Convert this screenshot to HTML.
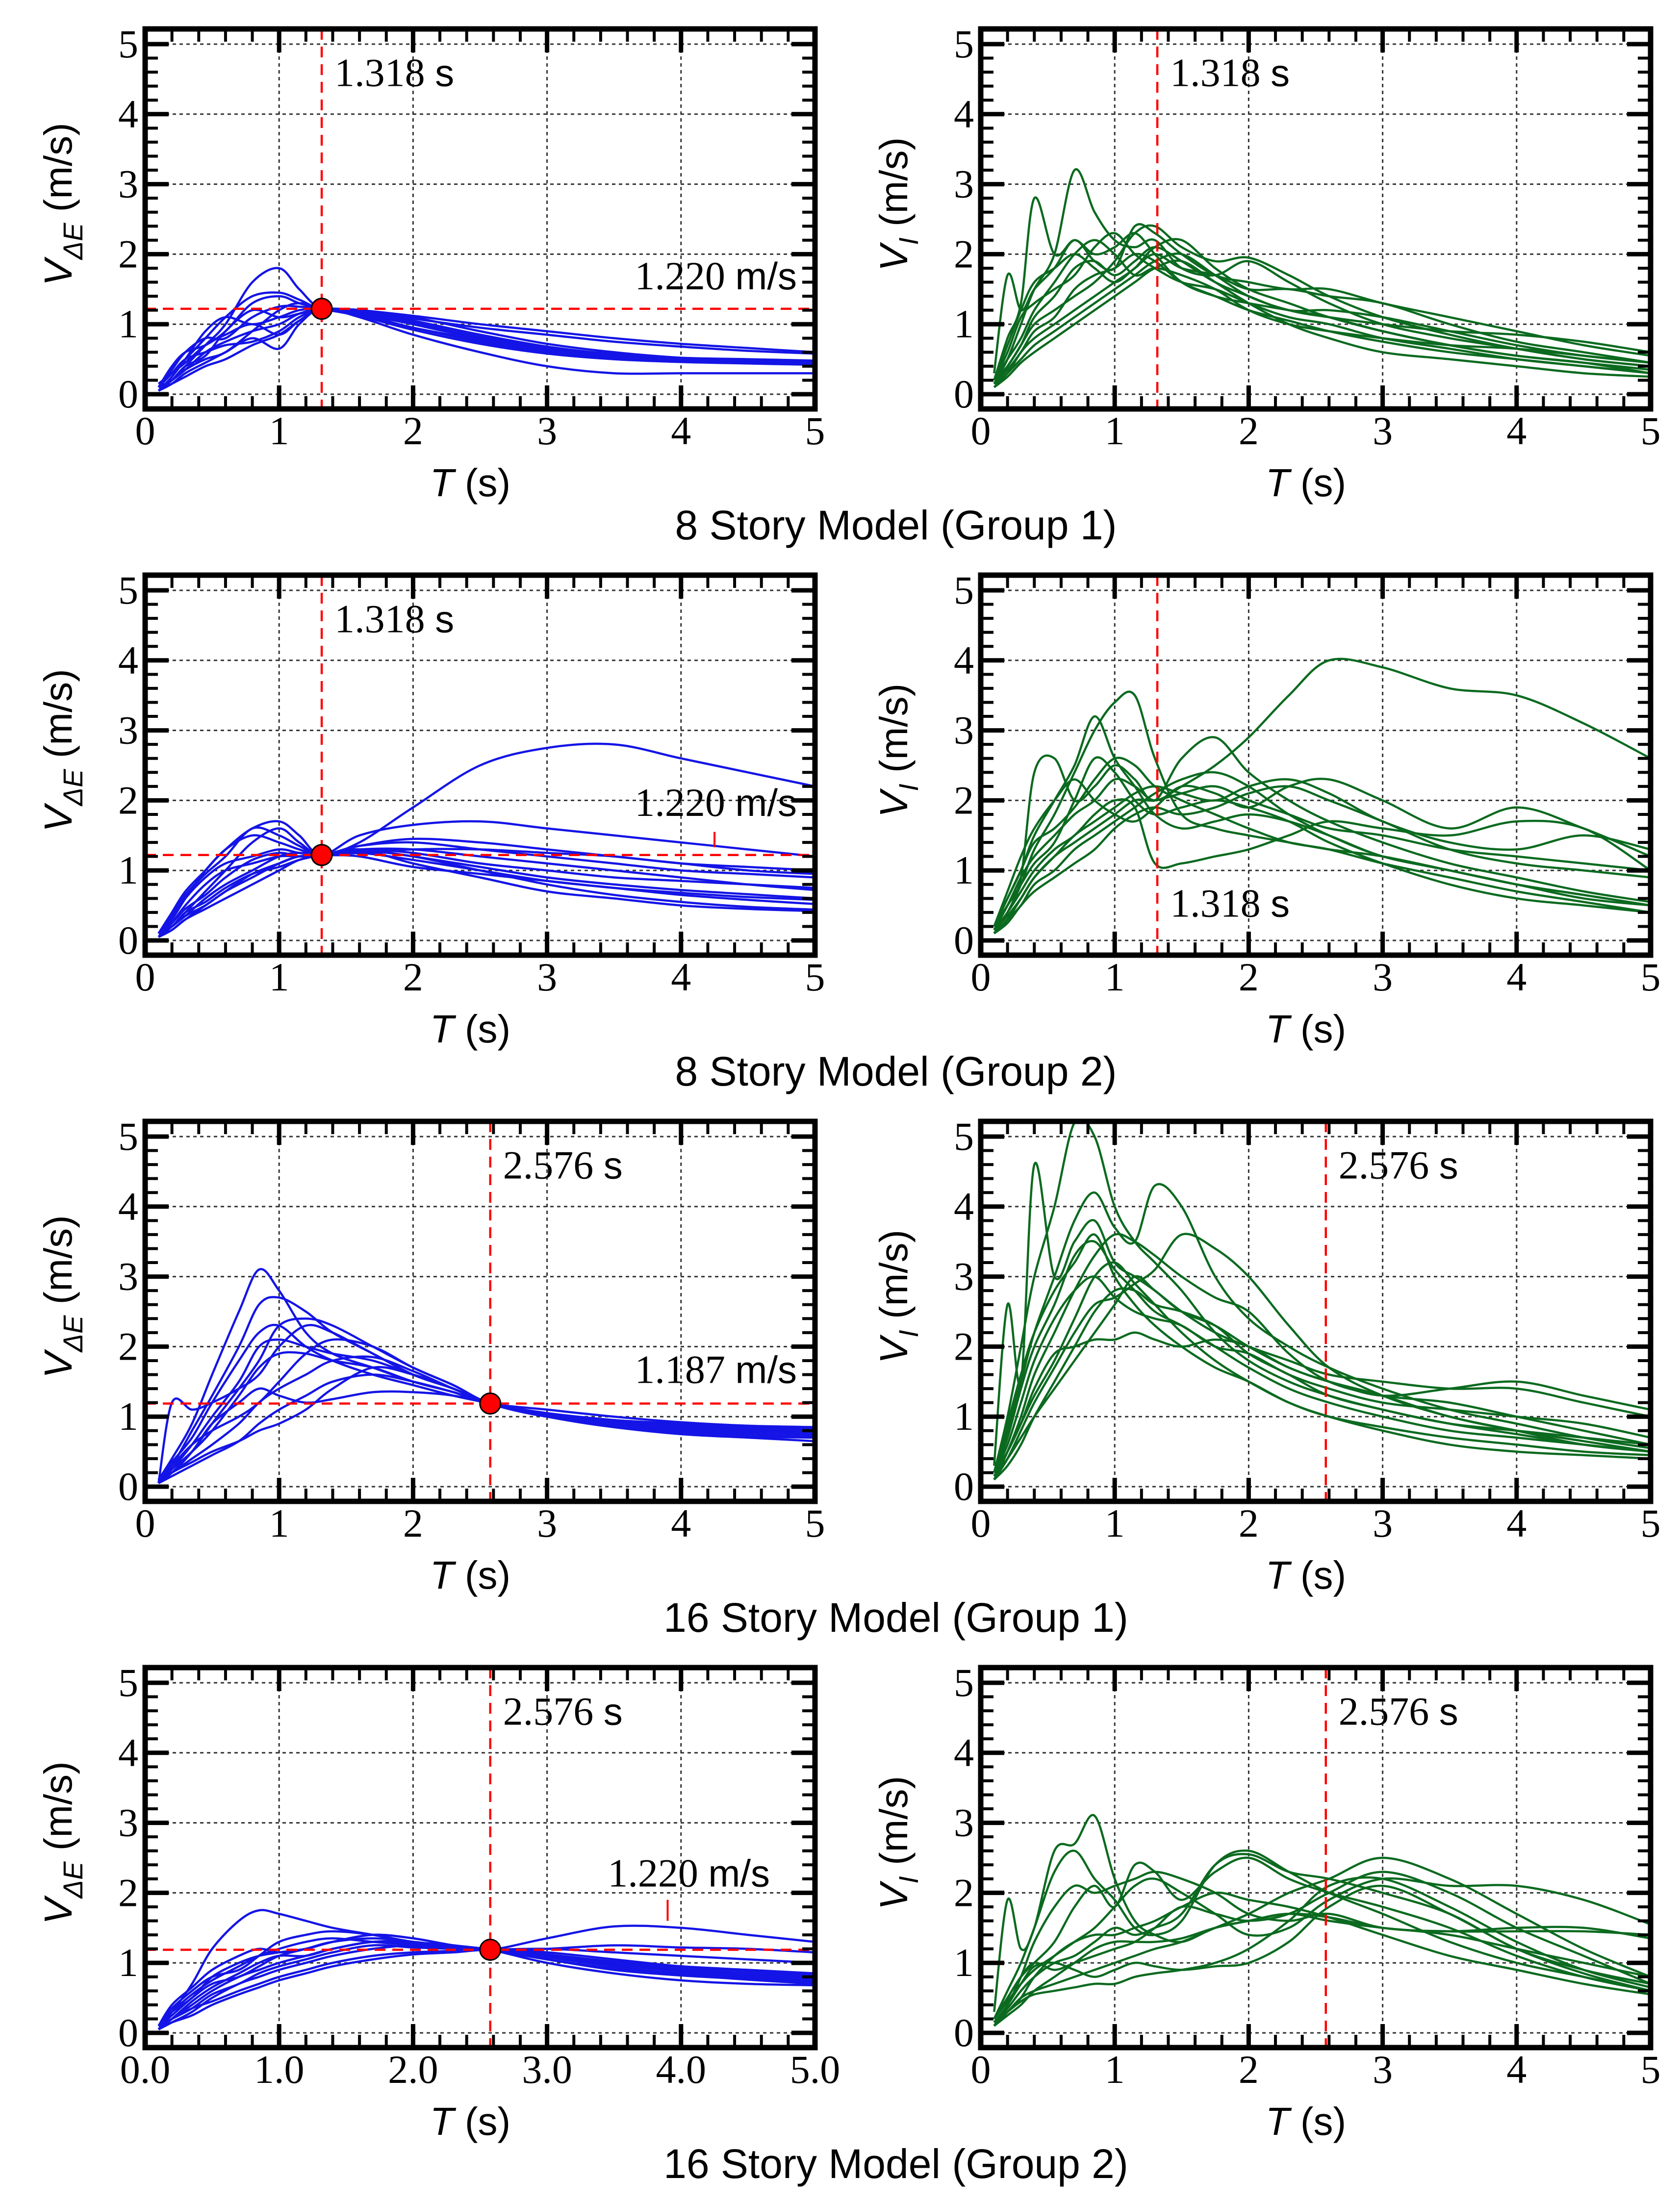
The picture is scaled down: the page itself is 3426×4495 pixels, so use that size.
<!DOCTYPE html>
<html><head><meta charset="utf-8"><style>html,body{margin:0;padding:0;background:#fff}svg{display:block}</style></head>
<body>
<svg id="fig" xmlns="http://www.w3.org/2000/svg" width="3426" height="4495" viewBox="0 0 3426 4495"></svg>
<script>
// ---- Data ----
const T1=[0.1,0.2,0.3,0.45,0.6,0.8,1.0,1.15,1.318,1.6,2,2.5,3,3.5,4,4.5,5];
const T2=[0.1,0.2,0.3,0.4,0.55,0.7,0.85,1.0,1.15,1.3,1.5,1.75,2.0,2.3,2.6,3.0,3.5,4.0,4.5,5.0];
const T3=[0.1,0.2,0.35,0.5,0.7,0.85,1.0,1.2,1.4,1.7,2.0,2.3,2.576,3.0,3.5,4.0,4.5,5.0];
const yTicks=[0,1,2,3,4,5];
const xTicks=[0,1,2,3,4,5];
const xTickLabelsA=["0","1","2","3","4","5"];
const xTickLabelsB=["0.0","1.0","2.0","3.0","4.0","5.0"];
const p1=[
[0.05,0.2,0.4,0.7,1.0,1.6,1.8,1.5,1.22,1.2,1.0,0.8,0.65,0.58,0.52,0.5,0.48],
[0.1,0.3,0.5,0.8,1.1,1.4,1.45,1.35,1.22,1.2,1.12,1.0,0.9,0.8,0.72,0.66,0.6],
[0.05,0.15,0.3,0.45,0.6,0.8,0.65,1.0,1.22,1.1,0.85,0.6,0.4,0.3,0.3,0.3,0.3],
[0.1,0.4,0.6,0.7,0.9,1.3,1.4,1.3,1.22,1.15,1.0,0.8,0.65,0.55,0.5,0.47,0.45],
[0.05,0.25,0.5,0.9,1.1,1.0,1.1,1.2,1.22,1.15,0.95,0.78,0.62,0.55,0.5,0.46,0.44],
[0.1,0.2,0.35,0.6,0.75,0.9,1.0,1.15,1.22,1.2,1.1,0.9,0.72,0.6,0.52,0.48,0.46],
[0.1,0.3,0.5,0.6,0.7,0.75,0.9,1.1,1.22,1.18,1.05,0.85,0.68,0.57,0.5,0.46,0.44],
[0.05,0.2,0.35,0.5,0.6,0.9,1.2,1.3,1.22,1.12,0.95,0.75,0.6,0.52,0.47,0.44,0.42],
[0.1,0.35,0.6,0.8,0.8,1.1,1.25,1.25,1.22,1.18,1.08,0.95,0.85,0.75,0.68,0.62,0.58],
[0.05,0.2,0.4,0.55,0.9,1.2,1.1,1.15,1.22,1.12,0.92,0.72,0.58,0.5,0.46,0.44,0.43],
[0.15,0.3,0.45,0.7,0.85,1.0,0.85,1.05,1.22,1.15,1.0,0.8,0.63,0.55,0.5,0.47,0.46],
[0.05,0.15,0.25,0.4,0.5,0.7,0.85,1.05,1.22,1.16,1.02,0.82,0.66,0.56,0.5,0.47,0.45]];
const p2=[
[0.2,0.8,1.3,2.8,2.0,2.2,2.0,2.1,2.3,2.0,1.6,1.4,1.3,1.2,1.1,0.9,0.7,0.55,0.45,0.35],
[0.15,0.5,1.0,1.5,2.0,3.2,2.6,2.2,2.1,2.2,1.8,1.7,1.9,1.6,1.3,1.0,0.8,0.65,0.5,0.4],
[0.3,1.7,1.2,1.5,1.8,2.2,1.9,1.8,2.4,2.3,2.0,1.7,1.6,1.5,1.5,1.3,1.1,0.9,0.7,0.55],
[0.2,0.4,0.7,1.0,1.2,1.4,1.6,1.9,2.3,2.4,2.1,1.9,1.95,1.7,1.4,1.1,0.85,0.65,0.5,0.4],
[0.15,0.3,0.6,0.8,1.0,1.2,1.4,1.6,1.8,2.1,2.2,1.8,1.5,1.3,1.1,0.9,0.7,0.55,0.45,0.3],
[0.2,0.6,1.1,1.3,1.5,1.7,2.1,2.3,2.0,1.8,1.6,1.5,1.3,1.1,1.0,0.8,0.65,0.5,0.4,0.3],
[0.1,0.3,0.5,0.7,0.9,1.1,1.3,1.5,1.7,1.9,2.0,1.7,1.4,1.2,1.1,1.0,0.9,0.85,0.75,0.6],
[0.2,0.5,0.8,1.2,1.6,2.0,2.2,2.0,1.7,1.8,1.7,1.5,1.2,1.0,0.9,0.8,0.7,0.65,0.55,0.45],
[0.15,0.4,0.7,1.1,1.4,1.8,1.9,1.7,1.9,2.1,1.9,1.6,1.4,1.2,1.2,1.1,0.9,0.7,0.55,0.45],
[0.1,0.25,0.45,0.6,0.8,1.0,1.2,1.4,1.6,1.8,1.9,1.6,1.3,1.0,0.8,0.6,0.5,0.4,0.3,0.25],
[0.2,0.7,1.2,1.6,1.8,2.0,1.8,1.6,1.8,2.0,1.8,1.7,1.5,1.5,1.4,1.3,1.0,0.75,0.6,0.45],
[0.15,0.35,0.6,0.9,1.1,1.5,1.7,1.8,2.0,1.9,1.6,1.4,1.2,1.05,0.9,0.75,0.6,0.5,0.4,0.3]];
const p3=[
[0.05,0.2,0.4,0.7,1.0,1.4,1.6,1.4,1.22,1.4,1.9,2.5,2.75,2.8,2.6,2.4,2.2],
[0.1,0.3,0.6,1.0,1.3,1.6,1.7,1.5,1.22,1.5,1.65,1.7,1.6,1.5,1.4,1.3,1.2],
[0.05,0.15,0.3,0.5,0.7,0.95,1.1,1.2,1.22,1.3,1.25,1.1,1.0,0.9,0.85,0.8,0.75],
[0.1,0.4,0.7,1.0,1.3,1.5,1.4,1.3,1.22,1.35,1.4,1.3,1.2,1.1,1.0,0.95,0.9],
[0.05,0.2,0.35,0.6,0.8,1.0,1.2,1.25,1.22,1.3,1.1,0.9,0.7,0.6,0.5,0.45,0.42],
[0.1,0.25,0.45,0.65,0.9,1.15,1.25,1.2,1.22,1.3,1.3,1.2,1.1,1.0,0.9,0.8,0.72],
[0.05,0.3,0.6,0.9,1.1,1.2,1.3,1.25,1.22,1.2,1.05,0.95,0.85,0.75,0.68,0.62,0.58],
[0.1,0.2,0.4,0.55,0.75,0.95,1.05,1.15,1.22,1.3,1.2,1.05,0.9,0.8,0.72,0.66,0.6],
[0.05,0.15,0.3,0.45,0.6,0.8,1.0,1.15,1.22,1.25,1.15,1.0,0.85,0.75,0.65,0.58,0.52],
[0.1,0.35,0.65,0.95,1.2,1.6,1.5,1.35,1.22,1.35,1.45,1.4,1.3,1.2,1.1,1.0,0.95],
[0.05,0.25,0.5,0.8,1.0,1.1,1.2,1.2,1.22,1.28,1.2,1.0,0.8,0.65,0.55,0.48,0.44],
[0.1,0.2,0.35,0.5,0.7,0.9,1.1,1.2,1.22,1.25,1.3,1.3,1.25,1.2,1.1,1.05,1.0]];
const p4=[
[0.2,0.5,0.9,1.2,1.5,1.8,2.0,2.3,2.2,2.0,2.2,2.5,2.9,3.5,4.0,3.9,3.6,3.5,3.1,2.6],
[0.1,0.4,0.8,1.3,1.8,2.4,3.0,3.4,3.5,2.6,1.8,1.6,1.5,1.4,1.3,1.2,1.0,0.8,0.65,0.5],
[0.2,0.6,1.0,1.5,2.0,2.5,3.2,2.6,2.2,1.8,1.6,1.7,1.8,1.7,1.5,1.2,1.0,0.8,0.65,0.5],
[0.15,0.5,0.9,2.4,2.6,2.0,2.2,2.5,2.3,2.0,2.6,2.9,2.4,2.0,1.7,1.4,1.1,0.9,0.7,0.55],
[0.1,0.3,0.6,0.9,1.2,1.5,1.7,1.9,2.1,2.2,2.1,2.0,2.2,2.3,2.1,1.7,1.4,1.3,1.5,1.3],
[0.2,0.7,1.2,1.6,2.0,2.3,2.0,1.8,1.7,1.9,2.2,2.1,1.9,2.2,2.3,2.0,1.6,1.9,1.6,1.2],
[0.15,0.4,0.7,1.0,1.3,1.5,1.8,2.0,1.9,1.1,1.1,1.2,1.3,1.5,1.7,1.6,1.5,1.7,1.6,1.0],
[0.1,0.3,0.5,0.8,1.0,1.3,1.5,1.7,1.9,2.1,2.3,2.4,2.2,1.8,1.5,1.2,1.0,0.8,0.6,0.5],
[0.2,0.5,0.8,1.1,1.4,2.0,2.6,2.4,2.0,1.8,1.9,2.0,1.9,1.7,1.4,1.1,0.8,0.6,0.5,0.4],
[0.1,0.25,0.5,0.7,0.9,1.1,1.3,1.6,1.8,1.9,1.8,1.9,2.1,2.2,2.0,1.7,1.3,1.1,1.0,0.9],
[0.2,0.6,1.0,1.4,1.6,1.9,2.3,2.6,2.5,2.2,2.0,1.8,1.6,1.4,1.3,1.1,0.9,0.7,0.55,0.4],
[0.15,0.35,0.6,0.9,1.2,1.4,1.6,1.8,2.0,2.0,2.1,2.2,2.0,1.8,1.6,1.5,1.3,1.2,1.1,1.0]];
const p5=[
[0.1,0.4,0.9,1.6,2.5,3.1,2.8,2.2,1.9,1.7,1.5,1.35,1.187,1.05,0.95,0.88,0.82,0.78],
[0.1,0.3,0.8,1.3,2.0,2.6,2.7,2.5,2.2,1.9,1.6,1.4,1.187,1.0,0.9,0.85,0.8,0.75],
[0.05,1.2,1.1,1.2,1.4,1.6,2.0,2.3,2.2,1.9,1.6,1.4,1.187,1.05,0.95,0.9,0.85,0.8],
[0.1,0.2,0.5,0.9,1.4,1.8,2.3,2.4,2.3,2.0,1.7,1.45,1.187,1.0,0.88,0.8,0.75,0.72],
[0.05,0.25,0.6,1.0,1.5,2.0,2.1,2.0,1.9,1.8,1.6,1.4,1.187,1.0,0.9,0.85,0.8,0.78],
[0.1,0.3,0.6,0.8,1.0,1.2,1.5,1.9,2.1,2.0,1.7,1.45,1.187,1.0,0.9,0.82,0.78,0.75],
[0.1,0.2,0.4,0.6,0.9,1.2,1.4,1.6,1.8,1.85,1.65,1.4,1.187,1.02,0.92,0.85,0.8,0.76],
[0.05,0.2,0.35,0.5,0.65,0.8,0.9,1.1,1.4,1.7,1.6,1.4,1.187,1.05,0.95,0.9,0.85,0.82],
[0.1,0.35,0.7,1.2,1.8,2.2,2.3,2.0,1.8,1.6,1.45,1.3,1.187,1.0,0.85,0.75,0.7,0.65],
[0.05,0.15,0.3,0.45,0.65,0.9,1.1,1.3,1.5,1.6,1.5,1.35,1.187,1.05,0.95,0.88,0.84,0.8],
[0.1,0.25,0.5,0.8,1.3,1.7,1.9,1.9,1.8,1.7,1.5,1.35,1.187,1.1,1.0,0.92,0.87,0.85],
[0.05,0.2,0.5,0.9,1.2,1.4,1.3,1.2,1.25,1.35,1.35,1.3,1.187,1.0,0.85,0.78,0.72,0.7]];
const p6=[
[0.2,1.0,2.0,3.0,4.0,5.2,5.0,4.0,3.5,3.2,2.8,2.2,1.8,1.5,1.3,1.1,0.9,0.75,0.6,0.5],
[0.3,2.6,1.5,4.6,3.0,3.5,3.8,3.2,3.0,2.8,2.5,2.3,2.0,1.7,1.5,1.3,1.0,0.8,0.65,0.5],
[0.2,0.8,1.5,2.2,3.0,3.8,4.2,3.7,3.5,4.3,4.0,3.0,2.4,2.0,1.7,1.4,1.1,0.9,0.7,0.55],
[0.1,0.5,1.0,1.6,2.2,2.8,3.3,3.6,3.5,3.3,3.0,2.7,2.5,1.9,1.5,1.3,1.2,1.0,0.8,0.6],
[0.2,0.6,1.2,1.8,2.4,2.8,3.0,2.7,2.5,2.4,2.3,2.0,1.9,1.6,1.4,1.2,1.1,1.0,0.9,0.7],
[0.15,0.5,0.9,1.4,1.9,2.0,2.1,2.1,2.2,2.1,2.0,2.1,2.0,1.7,1.5,1.3,1.4,1.5,1.3,1.1],
[0.1,0.4,0.8,1.2,1.7,2.2,2.6,2.7,2.9,3.1,3.6,3.4,3.0,2.3,1.7,1.3,1.0,0.8,0.6,0.5],
[0.2,0.9,1.6,2.2,2.8,3.2,3.6,3.0,2.6,2.3,2.0,1.7,1.5,1.2,1.0,0.8,0.6,0.5,0.45,0.4],
[0.15,0.4,0.7,1.0,1.4,1.8,2.2,2.6,3.0,2.8,2.5,2.2,2.0,1.8,1.6,1.5,1.4,1.4,1.2,1.0],
[0.2,0.7,1.4,2.0,2.6,3.3,3.5,3.1,2.8,2.5,2.3,2.0,1.7,1.4,1.2,1.0,0.8,0.7,0.6,0.5],
[0.1,0.3,0.6,1.0,1.5,2.0,2.5,2.8,2.8,2.6,2.5,2.3,1.9,1.6,1.3,1.1,0.9,0.8,0.7,0.6],
[0.2,0.5,0.9,1.3,1.8,2.4,3.0,3.2,2.9,2.6,2.2,1.8,1.5,1.2,1.0,0.85,0.7,0.6,0.5,0.45]];
const p7=[
[0.1,0.3,0.7,1.2,1.6,1.75,1.7,1.6,1.5,1.4,1.3,1.25,1.187,1.1,1.0,0.92,0.85,0.8],
[0.05,0.2,0.4,0.6,0.8,0.9,1.0,1.1,1.2,1.3,1.28,1.22,1.187,1.35,1.52,1.5,1.4,1.3],
[0.1,0.3,0.5,0.8,1.0,1.1,1.15,1.2,1.3,1.4,1.35,1.25,1.187,1.05,0.9,0.82,0.77,0.72],
[0.05,0.15,0.3,0.5,0.7,0.8,0.9,1.0,1.1,1.2,1.25,1.22,1.187,1.1,0.98,0.88,0.8,0.75],
[0.1,0.35,0.6,0.8,0.9,1.1,1.3,1.4,1.45,1.4,1.3,1.25,1.187,1.05,0.92,0.83,0.76,0.7],
[0.05,0.2,0.35,0.45,0.6,0.7,0.8,0.9,1.0,1.1,1.15,1.17,1.187,1.2,1.15,1.1,1.05,1.0],
[0.1,0.25,0.5,0.7,0.8,0.95,1.1,1.2,1.3,1.35,1.3,1.22,1.187,1.08,0.95,0.85,0.78,0.72],
[0.05,0.15,0.25,0.4,0.55,0.65,0.75,0.85,0.95,1.05,1.12,1.15,1.187,1.15,1.05,0.95,0.88,0.82],
[0.1,0.4,0.65,0.9,1.1,1.2,1.15,1.2,1.3,1.4,1.35,1.25,1.187,1.0,0.85,0.75,0.7,0.68],
[0.05,0.2,0.45,0.65,0.85,1.0,1.1,1.1,1.2,1.3,1.3,1.22,1.187,1.1,1.0,0.9,0.82,0.78],
[0.1,0.2,0.35,0.55,0.7,0.85,0.95,1.05,1.15,1.25,1.22,1.2,1.187,1.12,1.02,0.95,0.9,0.85],
[0.05,0.3,0.55,0.75,0.95,1.1,1.2,1.3,1.35,1.3,1.25,1.2,1.187,1.2,1.25,1.22,1.2,1.15]];
const p8=[
[0.3,1.9,1.2,1.5,2.6,2.7,3.1,2.2,1.6,1.4,1.3,1.5,1.6,1.7,1.6,1.5,1.4,1.2,1.0,0.8],
[0.2,0.6,1.0,1.5,2.3,2.6,2.2,1.9,1.5,1.4,1.6,2.4,2.6,2.3,2.0,1.7,1.3,1.0,0.8,0.6],
[0.1,0.4,0.8,1.3,1.8,2.1,2.0,2.1,2.2,2.3,2.2,2.0,1.7,1.6,1.7,1.5,1.45,1.45,1.45,1.4],
[0.2,0.5,0.8,1.0,1.3,1.8,2.1,1.8,2.4,2.3,1.9,2.3,2.5,2.2,2.0,1.8,1.5,1.1,0.8,0.6],
[0.15,0.35,0.6,0.8,1.0,1.1,1.3,1.5,1.4,1.5,1.7,2.4,2.55,2.3,2.2,2.0,1.7,1.2,0.9,0.7],
[0.1,0.3,0.5,0.6,0.7,0.8,0.9,1.0,1.1,1.2,1.3,1.5,1.7,2.0,2.2,2.5,2.2,1.7,1.2,0.8],
[0.2,0.5,0.8,1.0,0.9,1.0,1.1,1.2,1.3,1.5,1.8,1.7,1.6,1.7,2.0,2.3,2.0,1.5,1.1,0.7],
[0.15,0.3,0.45,0.55,0.6,0.65,0.7,0.7,0.8,0.85,0.9,1.0,1.2,1.6,2.1,2.2,1.8,1.3,0.9,0.65],
[0.1,0.25,0.4,0.6,0.8,1.0,1.2,1.3,1.3,1.3,1.35,1.5,1.6,1.7,1.65,1.5,1.45,1.5,1.5,1.35],
[0.2,0.45,0.7,0.9,1.1,1.3,1.5,1.8,2.1,2.2,2.0,1.7,1.4,1.5,1.9,2.2,2.1,2.1,1.9,1.55],
[0.1,0.3,0.5,0.8,1.1,1.3,1.4,1.4,1.5,1.6,1.8,2.0,1.9,1.8,1.65,1.4,1.1,0.9,0.7,0.55],
[0.15,0.4,0.7,0.95,1.0,0.9,0.8,0.9,1.0,0.95,0.9,0.95,1.0,1.3,1.8,2.1,1.7,1.2,0.85,0.6]];
const captions=["8 Story Model (Group 1)","8 Story Model (Group 2)","16 Story Model (Group 1)","16 Story Model (Group 2)"];
const periods=[1.318,1.318,2.576,2.576];
const hValues=[1.22,1.22,1.187,1.187];
const hLabels=["1.220","1.220","1.187","1.220"];
const periodLabels=["1.318 s","1.318 s","2.576 s","2.576 s"];

// ---- Drawing ----
const NS="http://www.w3.org/2000/svg";
const svg=document.getElementById('fig');
function mk(tag,attrs,parent){const e=document.createElementNS(NS,tag);for(const k in attrs)e.setAttribute(k,attrs[k]);(parent||svg).appendChild(e);return e;}
const BLUE="#1414e6", GREEN="#0b6a1f", RED="#ff0000";
const SERIF='"Liberation Serif", serif', SANS='"Liberation Sans", sans-serif';
let clipId=0;
function smoothPath(pts){
  let d="M"+pts[0][0].toFixed(1)+","+pts[0][1].toFixed(1);
  for(let i=0;i<pts.length-1;i++){
    const p0=pts[i-1]||pts[i],p1=pts[i],p2=pts[i+1],p3=pts[i+2]||p2;
    const c1x=p1[0]+(p2[0]-p0[0])/6,c1y=p1[1]+(p2[1]-p0[1])/6;
    const c2x=p2[0]-(p3[0]-p1[0])/6,c2y=p2[1]-(p3[1]-p1[1])/6;
    d+=" C"+c1x.toFixed(1)+","+c1y.toFixed(1)+" "+c2x.toFixed(1)+","+c2y.toFixed(1)+" "+p2[0].toFixed(1)+","+p2[1].toFixed(1);
  }
  return d;
}
function panel(o){
  const L=o.left,R=o.left+1366,y5=o.top+31,y0=o.top+745,B=o.top+775,Tp=o.top;
  const sx=v=>L+v*(R-L)/5, sy=v=>y0-v*(y0-y5)/5;
  const g=mk('g',{});  
  const id='clip'+(clipId++);
  const cp=mk('clipPath',{id:id},g); mk('rect',{x:L,y:Tp,width:R-L,height:B-Tp},cp);
  const grid=mk('g',{stroke:'#333','stroke-width':3,'stroke-dasharray':'7 7'},g);
   
  xTicks.forEach(v=>{if(v>0&&v<5)mk('line',{x1:sx(v),x2:sx(v),y1:Tp,y2:B},grid);});
  yTicks.forEach(v=>{mk('line',{x1:L,x2:R,y1:sy(v),y2:sy(v)},grid);});
  const cg=mk('g',{'clip-path':'url(#'+id+')',fill:'none',stroke:o.color,'stroke-width':4.5},g);
  o.data.forEach((s,i)=>{const p=mk('path',{d:smoothPath(s.map((v,j)=>[sx(o.T[j]),sy(v)]))},cg);
     });
  const rg=mk('g',{stroke:RED,'stroke-width':4.5,'stroke-dasharray':'22 14',fill:'none'},g);
  const vl=mk('line',{x1:sx(o.period),x2:sx(o.period),y1:Tp,y2:B},rg);
   
  if(o.h!=null){const hl=mk('line',{x1:L,x2:R,y1:sy(o.h),y2:sy(o.h)},rg);
     }
  const fg=mk('g',{stroke:'#000',fill:'none'},g);
  for(let k=0;k<=25;k++){const v=k*0.2,x=sx(v),maj=k%5==0,len=maj?48:26,w=maj?9:6;
    mk('line',{x1:x,x2:x,y1:B,y2:B-len,'stroke-width':w},fg);mk('line',{x1:x,x2:x,y1:Tp,y2:Tp+len,'stroke-width':w},fg);}
  for(let k=-1;k<=26;k++){const v=k*0.2,y=sy(v);if(y<Tp+3||y>B-3)continue;const maj=k%5==0,len=maj?48:26,w=maj?9:6;
    mk('line',{x1:L,x2:L+len,y1:y,y2:y,'stroke-width':w},fg);mk('line',{x1:R,x2:R-len,y1:y,y2:y,'stroke-width':w},fg);}
  const fr=mk('rect',{x:L,y:Tp,width:R-L,height:B-Tp,'stroke-width':11},fg);
   
  xTicks.forEach((v,i)=>{const t=mk('text',{x:sx(v),y:B+72,'font-family':SERIF,'font-size':82,'text-anchor':'middle'},g);
    t.textContent=o.xlabels[i];  });
  yTicks.forEach(v=>{const t=mk('text',{x:L-14,y:sy(v)+27,'font-family':SERIF,'font-size':82,'text-anchor':'end'},g);
    t.textContent=String(v);  });
  const xt=mk('text',{x:(L+R)/2-20,y:B+178,'font-family':SANS,'font-size':80,'text-anchor':'middle'},g);
   
  const a=mk('tspan',{'font-style':'italic'},xt); a.textContent='T'; const b=mk('tspan',{},xt); b.textContent=' (s)';
  const yt=mk('text',{x:0,y:0,'font-family':SANS,'font-size':80,'text-anchor':'middle',transform:'translate('+(L-150)+','+((Tp+B)/2-30)+') rotate(-90)'},g);
   
  const v1=mk('tspan',{'font-style':'italic'},yt); v1.textContent='V';
  const v2=mk('tspan',{'font-style':'italic','font-size':56,dy:22},yt); v2.textContent=o.sub;
  const v3=mk('tspan',{dy:-22},yt); v3.textContent='  (m/s)';
  const pl=mk('text',{x:sx(o.period)+26,y:sy(o.plabY),'font-family':SERIF,'font-size':82},g);
   
  const n1=mk('tspan',{},pl); n1.textContent=o.plab.split(' ')[0]+' '; const n2=mk('tspan',{'font-family':SANS,'font-size':78},pl); n2.textContent='s';
  if(o.h!=null){
    const vl2=mk('text',{x:o.hlabX,y:sy(o.hlabY),'font-family':SERIF,'font-size':82,'text-anchor':'end'},g);
     
    const m1=mk('tspan',{},vl2); m1.textContent=o.hlab+' '; const m2=mk('tspan',{'font-family':SANS,'font-size':78},vl2); m2.textContent='m/s';
    const dot=mk('circle',{cx:sx(o.period),cy:sy(o.h),r:21,fill:RED,stroke:'#000','stroke-width':3},g);
     
    if(o.ptr){const pt=mk('line',{x1:sx(o.ptr[0]),x2:sx(o.ptr[0]),y1:sy(o.ptr[1]),y2:sy(o.ptr[2]),stroke:RED,'stroke-width':4},g);
       }
  }
}
const LEFTS=[296,2000], ROW=1114;
const leftData=[p1,p3,p5,p7], rightData=[p2,p4,p6,p8];
const leftT=[T1,T1,T3,T3], rightT=[T2,T2,T2,T2];
const ptrs=[null,[4.25,1.55,1.33],null,[3.9,1.9,1.6]];
const hLabY=[1.5,1.78,1.48,2.09];
const rightPlabY=[4.4,0.34,4.4,4.4];
for(let r=0;r<4;r++){
  const top=59+ROW*r;
  panel({name:'panel-energy-row'+(r+1),left:LEFTS[0],top:top,T:leftT[r],data:leftData[r],color:BLUE,period:periods[r],h:hValues[r],
    hlab:hLabels[r],hlabX:r==3?1570:1625,hlabY:hLabY[r],plab:periodLabels[r],plabY:4.4,sub:'ΔE',xlabels:r==3?xTickLabelsB:xTickLabelsA,ptr:ptrs[r]});
  panel({name:'panel-input-row'+(r+1),left:LEFTS[1],top:top,T:rightT[r],data:rightData[r],color:GREEN,period:periods[r],h:null,
    plab:periodLabels[r],plabY:rightPlabY[r],sub:'I',xlabels:xTickLabelsA});
  const c=mk('text',{x:1827,y:1100+ROW*r,'font-family':SANS,'font-size':84,'text-anchor':'middle'});
  c.textContent=captions[r];  
}
</script>
</body></html>
